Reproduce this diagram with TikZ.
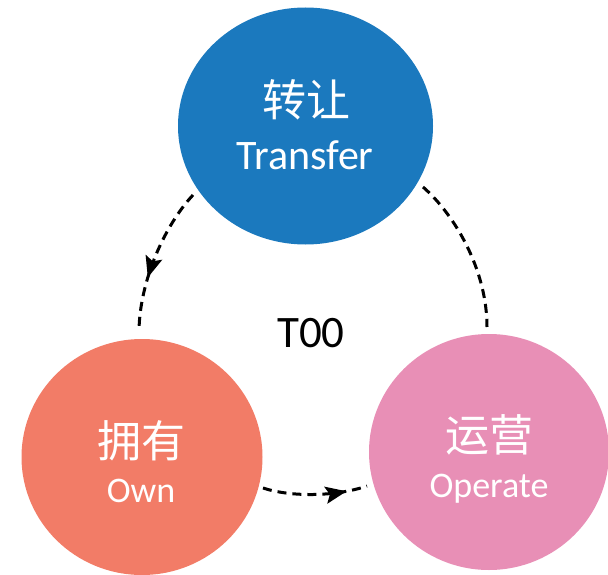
\documentclass[tikz,border=0pt]{standalone}
\usepackage{fontspec}
\setmainfont{Carlito}
\newfontfamily\cjk{Noto Sans CJK SC}
\usetikzlibrary{shapes.geometric,arrows.meta,decorations.markings}
\definecolor{cblue}{RGB}{27,121,190}
\definecolor{corange}{RGB}{242,124,103}
\definecolor{cpink}{RGB}{232,143,182}
\tikzset{
  blob/.style={ellipse,inner sep=0pt,minimum width=#1},
  cjktext/.style={text=white,font=\cjk\fontsize{44}{48}\selectfont,inner sep=0pt},
  entext/.style={text=white,anchor=base,inner sep=0pt},
  flow/.style={dash pattern=on 9pt off 6pt,line width=3pt,black},
  midarrow/.style={postaction={decorate},decoration={markings,
    mark=at position #1 with {\arrow{Stealth[length=21pt,width=17pt,inset=4pt]}}}}
}
\begin{document}
\begin{tikzpicture}[x=1pt,y=-1pt]
\useasboundingbox (0,0) rectangle (608,575);
% circles
\node[blob=255pt,minimum height=237pt,fill=cblue] (T) at (305.5,126) {};
\node[blob=241pt,minimum height=236pt,fill=corange] (O) at (142,457) {};
\node[blob=240pt,minimum height=236pt,fill=cpink] (P) at (489,452) {};
% labels
\node[cjktext] (tz) at (306,100) {转让};
\node[entext,font=\fontsize{42}{46}\selectfont] (te) at (305,170) {Transfer};
\node[cjktext] (oz) at (141,441) {拥有};
\node[entext,font=\fontsize{36}{40}\selectfont] (oe) at (141,502) {Own};
\node[cjktext] (pz) at (489,435) {运营};
\node[entext,font=\fontsize{36}{40}\selectfont] (pe) at (489,497) {Operate};
\node[anchor=base,inner sep=0pt,font=\fontsize{45}{50}\selectfont] (too) at (311,347) {T00};
% connector end points
\coordinate (a1) at (193,195);
\coordinate (a2) at (139,330);
\coordinate (b1) at (423,187);
\coordinate (b2) at (487,327);
\coordinate (c1) at (263,488);
\coordinate (c2) at (367,486);
% connectors
\draw[flow,midarrow=0.64] (a1) .. controls (165,225) and (140,280) .. (a2);
\draw[flow] (b1) .. controls (455,215) and (487,270) .. (b2);
\draw[flow,midarrow=0.80] (c1) .. controls (290,497) and (335,497) .. (c2);
\end{tikzpicture}
\end{document}
